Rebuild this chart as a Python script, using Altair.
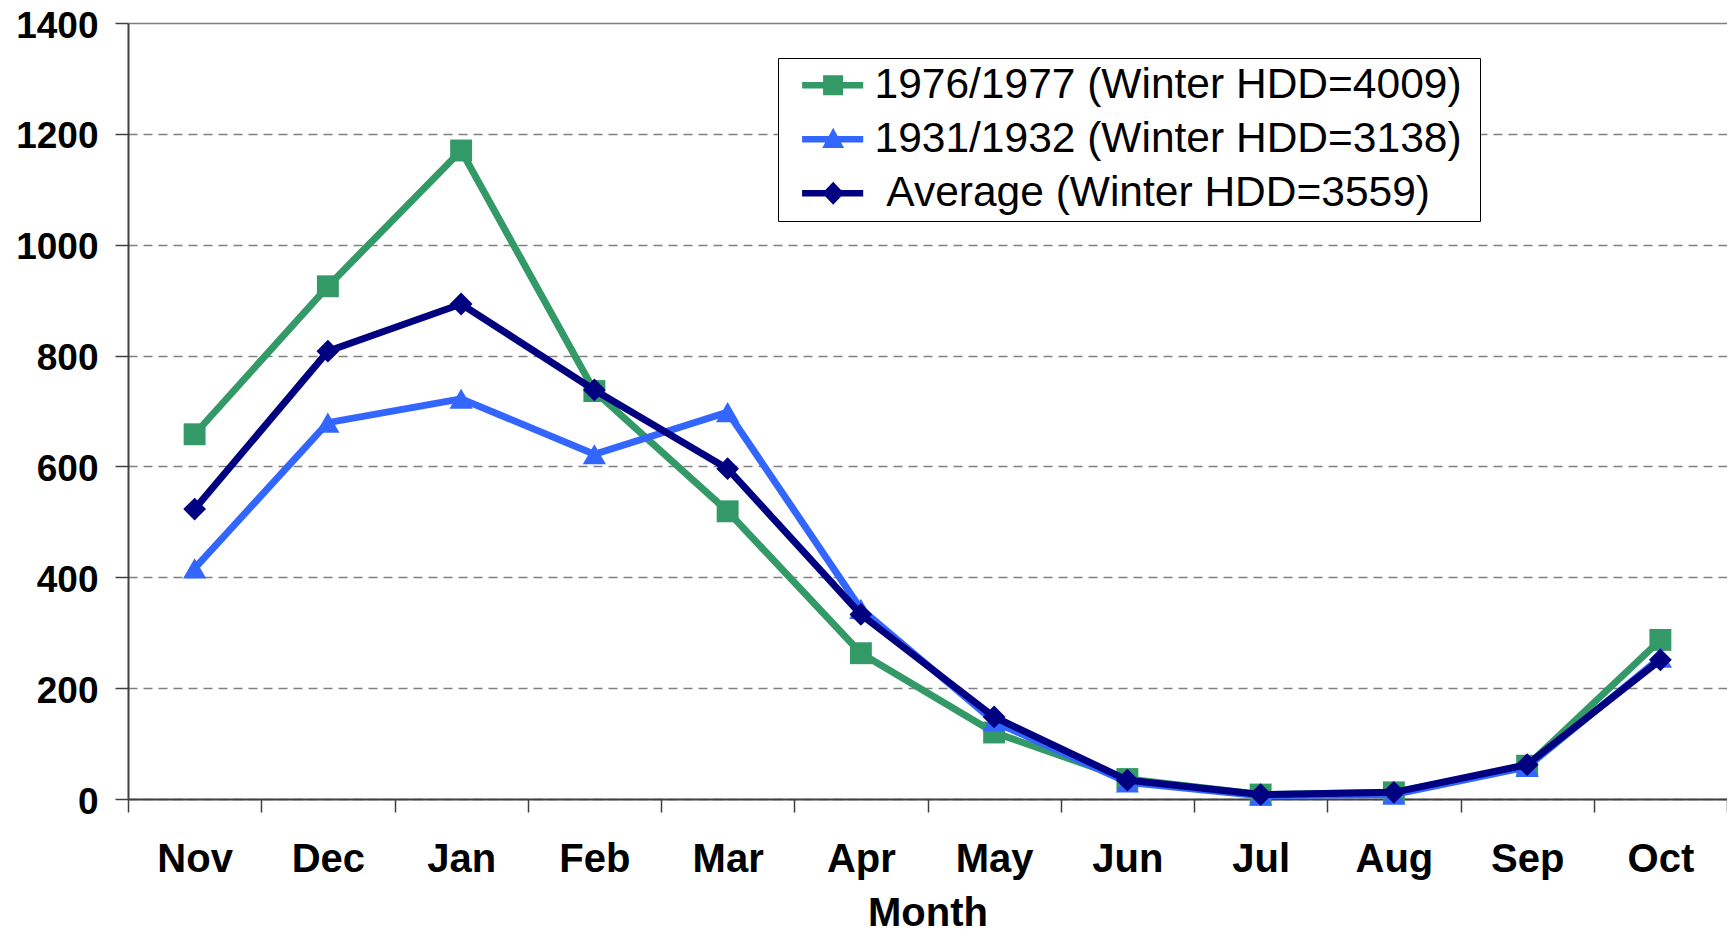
import altair as alt
import pandas as pd

# ---- data ----
months = ["Nov", "Dec", "Jan", "Feb", "Mar", "Apr", "May", "Jun", "Jul", "Aug", "Sep", "Oct"]
series_names = [
    "1976/1977 (Winter HDD=4009)",
    "1931/1932 (Winter HDD=3138)",
    "Average (Winter HDD=3559)",
]
hdd_1976_1977 = [658, 925, 1170, 736, 519, 263, 120, 36, 8, 12, 60, 287]
hdd_1931_1932 = [416, 679, 722, 622, 698, 343, 140, 30, 6, 8, 58, 255]
hdd_average = [523, 808, 893, 738, 596, 333, 148, 34, 8, 12, 62, 251]
y_ticks = [0, 200, 400, 600, 800, 1000, 1200, 1400]

# ---- styles ----
colors = ["#339966", "#3366FF", "#000080"]
marker_shapes = ["square", "triangle-up", "diamond"]
marker_sizes = [480, 540, 520]

# legend glyphs: a thick line with the marker in the middle (units of 21 px)
line_path = "M-0.15,-0.16L2.76,-0.16L2.76,0.16L-0.15,0.16Z"
legend_paths = [
    line_path + "M0.85,-0.476L1.8,-0.476L1.8,0.476L0.85,0.476Z",
    line_path + "M1.33,-0.55L1.85,0.42L0.81,0.42Z",
    line_path + "M1.33,-0.55L1.85,0L1.33,0.55L0.81,0Z",
]

rows = []
for name, vals in zip(series_names, [hdd_1976_1977, hdd_1931_1932, hdd_average]):
    for m, v in zip(months, vals):
        rows.append({"month": m, "hdd": v, "series": name})
df = pd.DataFrame(rows)

FONT = "Liberation Sans"

X = alt.X(
    "month:O",
    sort=months,
    scale=alt.Scale(type="band", paddingInner=0, paddingOuter=0),
    axis=alt.Axis(
        title="Month",
        titleFont=FONT,
        titleFontSize=40,
        titleFontWeight="bold",
        titleColor="black",
        titleBaseline="alphabetic",
        titleY=126,
        labelAngle=0,
        labelFont=FONT,
        labelFontSize=40,
        labelFontWeight="bold",
        labelColor="black",
        labelPadding=27,
        tickSize=13,
        tickBand="extent",
        tickColor="#404040",
        tickWidth=1.5,
        domainColor="#404040",
        domainWidth=2,
        grid=False,
    ),
)

Y = alt.Y(
    "hdd:Q",
    scale=alt.Scale(domain=[0, 1400], nice=False),
    axis=alt.Axis(
        title=None,
        values=y_ticks,
        format="d",
        labelFont=FONT,
        labelFontSize=37,
        labelFontWeight="bold",
        labelColor="black",
        labelPadding=17,
        labelOffset=3,
        tickSize=13,
        tickColor="#404040",
        tickWidth=1.5,
        domainColor="#404040",
        domainWidth=2,
        grid=True,
        gridColor="#808080",
        gridWidth=1.5,
        gridDash={"condition": {"test": "datum.value >= 1400", "value": []}, "value": [9, 6]},
    ),
)

# zero-width space keeps the padding spaces from being trimmed
label_expr = (
    "'\u200b' + (indexof(datum.label, 'Average') == 0 ? '\u00a0' : '')"
    " + datum.label + '\u00a0\u200b'"
)

legend_props = dict(
    title=None,
    orient="none",
    legendX=650,
    legendY=35,
    padding=6,
    fillColor="white",
    strokeColor="black",
    labelFont=FONT,
    labelFontSize=42.5,
    labelColor="black",
    labelLimit=2000,
    labelOffset=48,
    rowPadding=11,
    symbolSize=1764,
    symbolStrokeWidth=0,
    symbolOpacity=1,
    labelExpr=label_expr,
)

base = alt.Chart(df)
layers = []
for name, col, shp, sz in zip(series_names, colors, marker_shapes, marker_sizes):
    sub = base.transform_filter(alt.datum.series == name)
    layers.append(sub.mark_line(strokeWidth=7, color=col).encode(x=X, y=Y))
    layers.append(
        sub.mark_point(shape=shp, filled=True, size=sz, opacity=1, strokeWidth=0, color=col).encode(
            x=X, y=Y
        )
    )

legend_layer = (
    base.transform_filter("false")
    .mark_point(filled=True, opacity=1)
    .encode(
        color=alt.Color(
            "series:N",
            scale=alt.Scale(domain=series_names, range=colors),
            legend=alt.Legend(**legend_props),
        ),
        shape=alt.Shape(
            "series:N",
            scale=alt.Scale(domain=series_names, range=legend_paths),
            legend=alt.Legend(**legend_props),
        ),
    )
)
layers.append(legend_layer)

chart = (
    alt.layer(*layers)
    .properties(
        width=1599,
        height=776,
        padding={"left": 120, "top": 15, "right": 0, "bottom": 130},
        autosize=alt.AutoSizeParams(type="none"),
        background="white",
    )
    .configure_view(stroke=None)
)

chart.save("out.html", embed_options={"renderer": "svg", "actions": False})
